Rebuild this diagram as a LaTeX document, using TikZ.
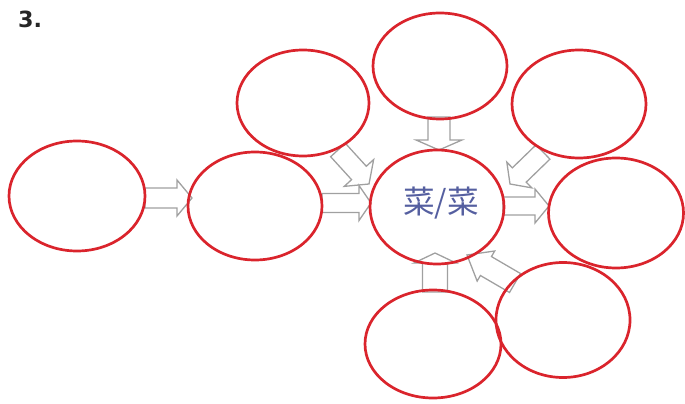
\documentclass[tikz,border=0pt]{standalone}
\usepackage{fontspec}
\newfontfamily\cjkfont{Noto Sans CJK SC}
\newfontfamily\numfont{DejaVu Sans}
\usetikzlibrary{shapes.geometric,calc,backgrounds}
\definecolor{redc}{RGB}{218,36,44}
\definecolor{arrgray}{RGB}{160,160,160}
\definecolor{txtblue}{RGB}{85,95,160}
\newcommand\blockarrow[5]{%
  \coordinate (#1#2h) at ($(#2)!#5*0.85pt!(#1)$);
  \draw[barrow]
    ($(#1)!#3*0.85pt!90:(#2)$) -- ($(#1#2h)!#3*0.85pt!90:(#2)$) --
    ($(#1#2h)!#4*0.85pt!90:(#2)$) -- (#2) --
    ($(#1#2h)!#4*0.85pt!-90:(#2)$) -- ($(#1#2h)!#3*0.85pt!-90:(#2)$) --
    ($(#1)!#3*0.85pt!-90:(#2)$) -- cycle;}
\begin{document}
\begin{tikzpicture}[x=0.03cm,y=-0.03cm,
  oval/.style={ellipse,draw=redc,line width=2.3pt,inner sep=0pt},
  barrow/.style={draw=arrgray,line width=1.1pt,line join=miter}]
\useasboundingbox (0,0) rectangle (685,404);
\node[anchor=base west,font=\numfont\bfseries\fontsize{19}{24}\selectfont,text=black!85] (num) at (14,28) {3.};
\node[oval,minimum width=136*0.03cm,minimum height=110*0.03cm] (e1) at (77,196) {};
\node[oval,minimum width=134*0.03cm,minimum height=108*0.03cm] (e2) at (255,206) {};
\node[oval,minimum width=132*0.03cm,minimum height=106*0.03cm] (e3) at (303,103) {};
\node[oval,minimum width=134*0.03cm,minimum height=106*0.03cm] (e4) at (440,66) {};
\node[oval,minimum width=134*0.03cm,minimum height=114*0.03cm] (e5) at (437,207) {};
\node[oval,minimum width=134*0.03cm,minimum height=108*0.03cm] (e6) at (579,104) {};
\node[oval,minimum width=135*0.03cm,minimum height=110*0.03cm] (e7) at (616,213) {};
\node[oval,minimum width=134*0.03cm,minimum height=115*0.03cm] (e8) at (563,320) {};
\node[oval,minimum width=136*0.03cm,minimum height=108*0.03cm] (e9) at (433,344) {};
\node[font=\cjkfont\fontsize{27}{30}\selectfont,text=txtblue] (lbl) at (441,203) {菜/菜};
\coordinate (t1) at (145,198); \coordinate (p1) at (192,198);
\coordinate (t2) at (322,203); \coordinate (p2) at (371,203);
\coordinate (t3) at (338,150); \coordinate (p3) at (369,184);
\coordinate (t4) at (439,117); \coordinate (p4) at (439,150);
\coordinate (t5) at (543,152); \coordinate (p5) at (510,184);
\coordinate (t6) at (503,206); \coordinate (p6) at (549,206);
\coordinate (t7) at (435,292); \coordinate (p7) at (435,253);
\coordinate (t8) at (515,283); \coordinate (p8) at (467,255);
\begin{scope}[on background layer]
\blockarrow{t1}{p1}{10}{18}{15}
\blockarrow{t2}{p2}{9.5}{17.5}{12}
\blockarrow{t3}{p3}{10}{20}{15}
\blockarrow{t4}{p4}{11}{23}{10}
\blockarrow{t5}{p5}{10}{18}{13}
\blockarrow{t6}{p6}{9}{17}{14}
\blockarrow{t7}{p7}{12.5}{21}{10}
\blockarrow{t8}{p8}{11}{17.5}{22}
\end{scope}
\end{tikzpicture}
\end{document}
